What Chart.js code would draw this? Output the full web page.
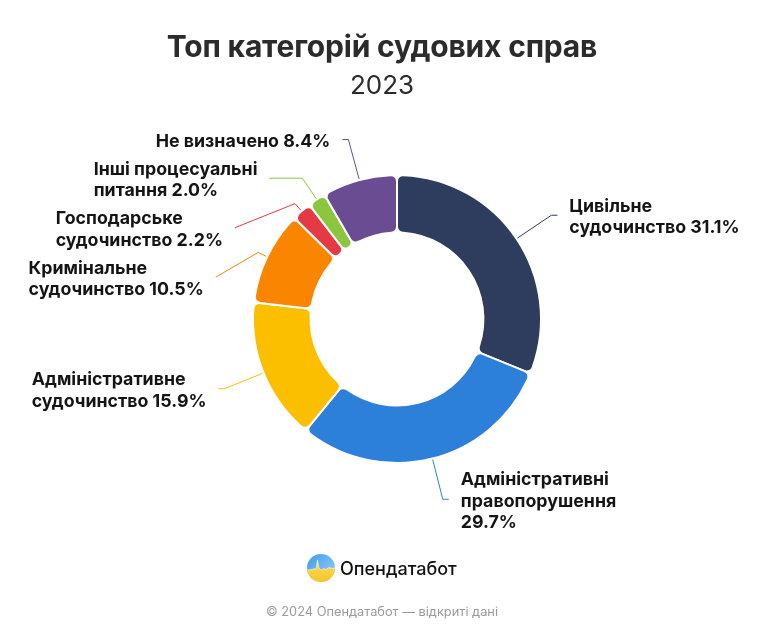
<!DOCTYPE html>
<html>
<head>
<meta charset="utf-8">
<script src="https://cdn.jsdelivr.net/npm/chart.js@4.4.1/dist/chart.umd.min.js"></script>
<style>
  html, body { margin: 0; padding: 0; background: #fff; }
  #wrap { position: relative; width: 764px; height: 637px; overflow: hidden; font-family: Inter, "Noto Sans", sans-serif; }
  #c { position: absolute; left: 0; top: 0; }
  .t { position: absolute; left: 0; width: 764px; text-align: center; white-space: nowrap; }
  #title { top: 28px; font-size: 30px; line-height: 36px; font-weight: 700; color: #2b2b2b; letter-spacing: -0.2px; }
  #sub { top: 69px; font-size: 26px; line-height: 31px; font-weight: 400; color: #2b2b2b; }
  #foot { top: 604px; font-size: 12.8px; line-height: 16px; color: #9a9a9a; }
  #brand { position: absolute; left: 307px; top: 554px; height: 28px; display: flex; align-items: center; }
  #brand span { margin-left: 5px; font-size: 18px; font-weight: 500; color: #111; }
</style>
</head>
<body>
<div id="wrap">
  <canvas id="c" width="764" height="637"></canvas>
  <div class="t" id="title">Топ категорій судових справ</div>
  <div class="t" id="sub">2023</div>
  <div id="brand">
    <svg width="28" height="28" viewBox="0 0 28 28">
      <defs>
        <clipPath id="cc"><circle cx="14" cy="14" r="14"/></clipPath>
        <linearGradient id="bl" x1="0" y1="0" x2="1" y2="1">
          <stop offset="0" stop-color="#3f9be8"/><stop offset="1" stop-color="#9ad6f8"/>
        </linearGradient>
        <linearGradient id="yl" x1="0" y1="0" x2="0" y2="1">
          <stop offset="0" stop-color="#ffdb5c"/><stop offset="1" stop-color="#f6c52a"/>
        </linearGradient>
      </defs>
      <g clip-path="url(#cc)">
        <rect width="28" height="28" fill="url(#bl)"/>
        <path d="M0 16 L5 15.5 L7.5 14.5 L9 15.5 L10.5 6 L12 14 L14 16 L17 14.5 L19 15.5 L22 13.5 L25 14.5 L28 14 L28 28 L0 28 Z" fill="url(#yl)"/>
        <path d="M0 16 L5 15.5 L7.5 14.5 L9 15.5 L10.5 6 L12 14 L14 16 L17 14.5 L19 15.5 L22 13.5 L25 14.5 L28 14" fill="none" stroke="#ffffff" stroke-opacity="0.7" stroke-width="0.8"/>
      </g>
    </svg>
    <span>Опендатабот</span>
  </div>
  <div class="t" id="foot">© 2024 Опендатабот — відкриті дані</div>
</div>
<script>
// ---- data ----
const categories = [
  ['Цивільне', 'судочинство'],
  ['Адміністративні', 'правопорушення'],
  ['Адміністративне', 'судочинство'],
  ['Кримінальне', 'судочинство'],
  ['Господарське', 'судочинство'],
  ['Інші процесуальні', 'питання'],
  ['Не визначено']
];
const shares = [31.1, 29.7, 15.9, 10.5, 2.2, 2.0, 8.4];
const shareOnOwnLine = [false, true, false, false, false, false, false];
const colors = ['#2e3d5e', '#2c80d9', '#fcbf00', '#fa8500', '#e63946', '#8cc63f', '#6a4c93'];

// ---- leader-line labels ----
const leaderLabels = {
  id: 'leaderLabels',
  afterDatasetsDraw(chart) {
    const ctx = chart.ctx;
    const meta = chart.getDatasetMeta(0);
    const LH = 21.5, GAP = 6.5, EXT = 42, SHORT = 10, TICK = 6, TXT = 12, SHIFT = 2;
    ctx.save();
    ctx.font = '700 17.8px Inter, "Noto Sans", sans-serif';
    const items = meta.data.map((arc, i) => {
      const p = arc.getProps(['x', 'y', 'startAngle', 'endAngle', 'outerRadius'], true);
      const mid = (p.startAngle + p.endAngle) / 2;
      const ux = Math.cos(mid), uy = Math.sin(mid);
      const Ra = p.outerRadius + EXT;
      const lines = categories[i].slice();
      const pct = shares[i].toFixed(1) + '%';
      if (shareOnOwnLine[i]) lines.push(pct); else lines[lines.length - 1] += ' ' + pct;
      return { i, cx: p.x, cy: p.y, R: p.outerRadius, Ra, ux, uy, side: ux < 0 ? -1 : 1,
               lines, ay: p.y + Ra * uy, h: lines.length * LH };
    });
    // resolve vertical overlaps per side (push downwards)
    [-1, 1].forEach(side => {
      const list = items.filter(it => it.side === side).sort((a, b) => a.ay - b.ay);
      let lastBottom = -Infinity;
      list.forEach(it => {
        let top = it.ay + SHIFT - it.h / 2;
        if (top < lastBottom + GAP) {
          top = lastBottom + GAP;
          it.ay = top + it.h / 2 - SHIFT;
        }
        lastBottom = top + it.h;
      });
    });
    items.forEach(it => {
      const { cx, cy, R, Ra, ux, uy, side } = it;
      const P = { x: cx + (R + 1) * ux, y: cy + (R + 1) * uy };
      const dy = it.ay - cy;
      const ax = cx + side * Math.sqrt(Math.max(Ra * Ra - dy * dy, 0));
      const pts = [P];
      const rReach = Math.abs(uy) > 1e-6 ? dy / uy : Infinity;
      if (rReach >= R + 8 && rReach <= Ra + 10) {
        const Q = { x: cx + rReach * ux, y: it.ay };
        pts.push(Q);
        let ex = side < 0 ? Math.min(Q.x, ax) : Math.max(Q.x, ax);
        ex += side * TICK;
        pts.push({ x: ex, y: it.ay });
      } else {
        pts.push({ x: cx + (R + SHORT) * ux, y: cy + (R + SHORT) * uy });
        pts.push({ x: ax, y: it.ay });
      }
      ctx.strokeStyle = colors[it.i];
      ctx.lineWidth = 1;
      ctx.beginPath();
      ctx.moveTo(pts[0].x, pts[0].y);
      for (let k = 1; k < pts.length; k++) ctx.lineTo(pts[k].x, pts[k].y);
      ctx.stroke();
      const end = pts[pts.length - 1];
      const w = Math.max(...it.lines.map(l => ctx.measureText(l).width));
      const tx = side > 0 ? end.x + TXT : end.x - TXT - w;
      ctx.fillStyle = '#141414';
      ctx.textAlign = 'left';
      ctx.textBaseline = 'middle';
      const c = it.ay + SHIFT;
      it.lines.forEach((l, k) => {
        ctx.fillText(l, tx, c + (k - (it.lines.length - 1) / 2) * LH);
      });
    });
    ctx.restore();
  }
};

new Chart(document.getElementById('c'), {
  type: 'doughnut',
  data: {
    labels: categories.map(l => l.join(' ')),
    datasets: [{
      data: shares,
      backgroundColor: colors,
      borderColor: '#ffffff',
      borderWidth: 2,
      borderRadius: 6,
      hoverOffset: 0
    }]
  },
  options: {
    responsive: false,
    animation: false,
    events: [],
    cutout: '60%',
    layout: { padding: { left: 252, right: 222, top: 174, bottom: 173 } },
    plugins: { legend: { display: false }, tooltip: { enabled: false }, title: { display: false } }
  },
  plugins: [leaderLabels]
});
</script>
</body>
</html>
